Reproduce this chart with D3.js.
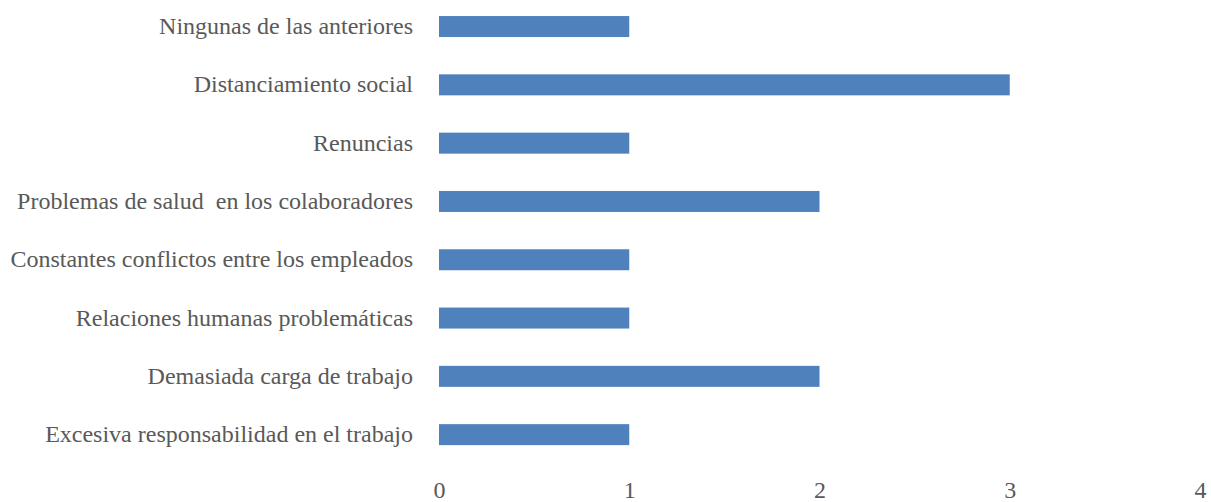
<!DOCTYPE html>
<html>
<head>
<meta charset="utf-8">
<script src="https://cdn.jsdelivr.net/npm/d3@7"></script>
<style>
  html, body { margin: 0; padding: 0; background: #ffffff; }
  svg { display: block; }
</style>
</head>
<body>
<svg id="chart" width="1211" height="502"></svg>
<script>
// Categories, listed top to bottom
const categories = [
  "Ningunas de las anteriores",
  "Distanciamiento social",
  "Renuncias",
  "Problemas de salud  en los colaboradores",
  "Constantes conflictos entre los empleados",
  "Relaciones humanas problemáticas",
  "Demasiada carga de trabajo",
  "Excesiva responsabilidad en el trabajo"
];
const values = [1, 3, 1, 2, 1, 1, 2, 1];
const xTicks = [0, 1, 2, 3, 4];

const FONT = '"Liberation Serif", "Times New Roman", serif';
const TEXT_COLOR = "#595959";

const svg = d3.select("#chart");

const x = d3.scaleLinear().domain([0, 4]).range([439, 1200]);
const y = d3.scaleBand().domain(categories).range([-2.6, 463.8]).paddingInner(0.64).paddingOuter(0.32);

// Bars
svg.append("g").selectAll("rect")
  .data(categories)
  .join("rect")
  .attr("x", x(0))
  .attr("y", d => y(d))
  .attr("width", (d, i) => x(values[i]) - x(0))
  .attr("height", y.bandwidth())
  .attr("fill", "#4f81bd");

// Category labels
const gy = svg.append("g")
  .attr("transform", `translate(${x(0)},0)`)
  .call(d3.axisLeft(y).tickSize(0).tickPadding(26));
gy.select(".domain").remove();
gy.selectAll(".tick text")
  .style("font-family", FONT)
  .style("font-size", "24px")
  .style("white-space", "pre")
  .attr("fill", TEXT_COLOR)
  .attr("dy", null)
  .attr("y", 7.5);

// Value axis
const gx = svg.append("g")
  .attr("transform", "translate(0,498)")
  .call(d3.axisBottom(x).tickValues(xTicks).tickFormat(d3.format("d")).tickSize(0).tickPadding(0));
gx.select(".domain").remove();
gx.selectAll(".tick text")
  .style("font-family", FONT)
  .style("font-size", "24px")
  .attr("fill", TEXT_COLOR)
  .attr("dy", null)
  .attr("y", 0);
</script>
</body>
</html>
